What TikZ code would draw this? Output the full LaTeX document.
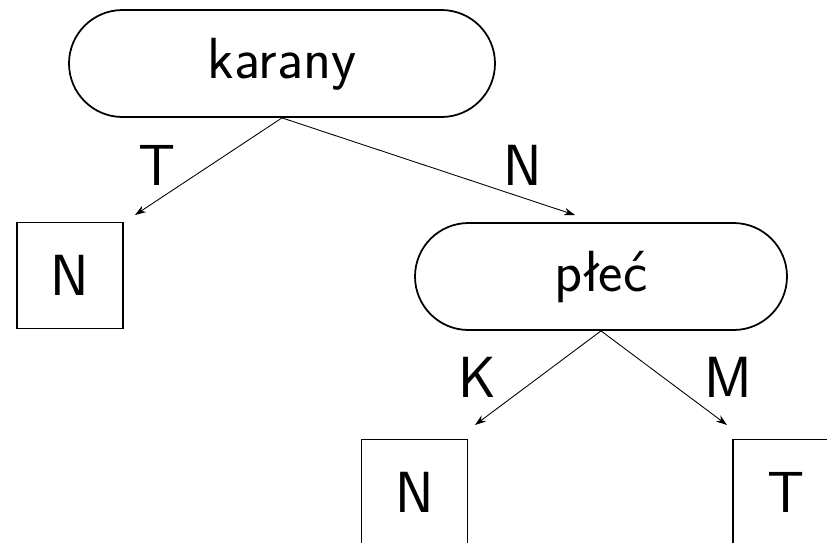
\documentclass[tikz,border=0pt]{standalone}
\usetikzlibrary{arrows.meta}

\begin{document}
\begin{tikzpicture}[
        txt/.style={font=\fontsize{33}{40}\sffamily\selectfont},
        test/.style={txt,rectangle,rounded corners=1.07cm,draw,line width=1pt,
              minimum width=8.52cm,minimum height=2.14cm,text height=0.78cm,text depth=0.2cm},
        leaf/.style={txt,rectangle,draw,line width=1pt,minimum size=2.12cm},
        edge/.style={-{Stealth[length=2.2mm,width=1.5mm]},line width=0.5pt}]

        \useasboundingbox (0,0) rectangle (16.54,-10.84);

        \node[test] (karany) at (5.64,-1.27) {karany};
        \node[leaf] (n1) at (1.4,-5.51) {N};
        \node[test,minimum width=7.44cm] (plec) at (12.02,-5.53) {płeć};
        \node[leaf] (n2) at (8.29,-9.85) {N};
        \node[leaf] (t1) at (15.72,-9.85) {T};

        \coordinate (e1) at (2.7,-4.3);
        \coordinate (e2) at (11.5,-4.3);
        \coordinate (e3) at (9.5,-8.5);
        \coordinate (e4) at (14.54,-8.5);

        \draw[edge] (karany.south) -- (e1);
        \draw[edge] (karany.south) -- (e2);
        \draw[edge] (plec.south) -- (e3);
        \draw[edge] (plec.south) -- (e4);

        \node[txt] (lt) at (3.14,-3.3)  {T};
        \node[txt] (ln) at (10.46,-3.3) {N};
        \node[txt] (lk) at (9.54,-7.54) {K};
        \node[txt] (lm) at (14.56,-7.54) {M};

    \end{tikzpicture}
\end{document}
